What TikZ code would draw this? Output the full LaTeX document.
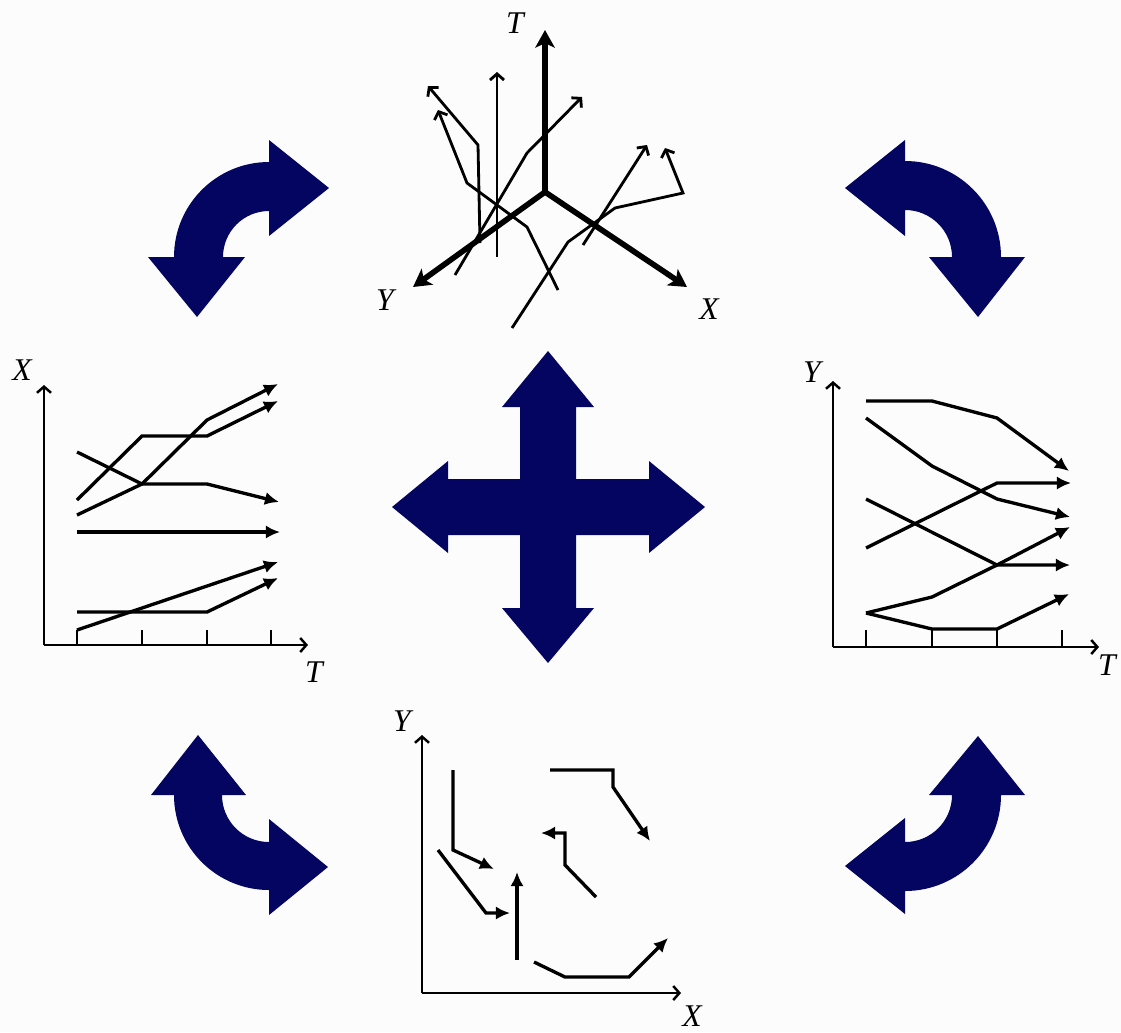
\documentclass[tikz,border=0pt]{standalone}
\usepackage{fontspec}
\setmainfont{Liberation Serif}
\usetikzlibrary{arrows.meta}
\definecolor{navy}{RGB}{3,5,96}
\definecolor{bg}{RGB}{252,252,252}
\begin{document}
\begin{tikzpicture}[x=0.02cm,y=-0.02cm,
  lbl/.style={font=\fontsize{18}{21}\selectfont\itshape, inner sep=0pt},
  traj/.style={line width=1.9pt, line join=miter, -{Latex[length=8pt,width=7.5pt]}},
  thinthree/.style={line width=1.6pt, line join=miter, -{Straight Barb[length=3.5pt,width=8pt]}},
  axthree/.style={line width=3.2pt, -{Stealth[length=10pt,width=11pt,inset=2.5pt]}},
  axplot/.style={line width=1.4pt, -{Straight Barb[length=3.5pt,width=8pt]}},
  tickmark/.style={line width=1.4pt},
  bigarrow/.style={fill=navy, draw=none}
]
\fill[bg] (0,0) rectangle (1121,1032);
\useasboundingbox (0,0) rectangle (1121,1032);

% ---------- top 3D diagram ----------
\coordinate (O3) at (545,192);
\coordinate (T3) at (545,30);
\coordinate (Y3) at (413,287);
\coordinate (X3) at (687,287);
\draw[thinthree] (497,257) -- (497,72);
\draw[thinthree] (480,243) -- (478,145) -- (428,86);
\draw[thinthree] (558,290) -- (527,227) -- (467,183) -- (438,110);
\draw[thinthree] (455,275) -- (527,153) -- (582,97);
\draw[thinthree] (512,328) -- (568,242) -- (615,208) -- (683,193) -- (665,148);
\draw[thinthree] (583,245) -- (647,145);
\draw[axthree] (O3) -- (T3);
\draw[axthree] (O3) -- (Y3);
\draw[axthree] (O3) -- (X3);
\node[lbl] (lT3) at (515,23) {T};
\node[lbl] (lY3) at (385,300) {Y};
\node[lbl] (lX3) at (709,309) {X};

% ---------- left plot X-T ----------
\coordinate (LO) at (44,645);
\coordinate (LY) at (44,385);
\coordinate (LX) at (308,645);
\draw[axplot] (LO) -- (LY);
\draw[axplot] (LO) -- (LX);
\foreach \x in {77,142,207,271} \draw[tickmark] (\x,645) -- (\x,630);
\draw[traj] (77,500) -- (142,436) -- (207,436) -- (278,401);
\draw[traj] (77,515) -- (142,484) -- (207,420) -- (278,384);
\draw[traj] (77,452) -- (142,484) -- (207,484) -- (279,502);
\draw[traj] (77,532) -- (280,532);
\draw[traj] (77,630) -- (278,562);
\draw[traj] (77,612) -- (207,612) -- (278,578);
\node[lbl] (lXL) at (22,370) {X};
\node[lbl] (lTL) at (314,672) {T};

% ---------- right plot Y-T ----------
\coordinate (RO) at (833,647);
\coordinate (RY) at (833,381);
\coordinate (RX) at (1099,647);
\draw[axplot] (RO) -- (RY);
\draw[axplot] (RO) -- (RX);
\foreach \x in {866,932,997,1062} \draw[tickmark] (\x,647) -- (\x,630);
\draw[traj] (866,401) -- (932,401) -- (997,418) -- (1069,471);
\draw[traj] (866,418) -- (932,466) -- (997,499) -- (1070,517);
\draw[traj] (866,499) -- (997,565) -- (1070,565);
\draw[traj] (866,548) -- (997,483) -- (1071,483);
\draw[traj] (866,613) -- (932,597) -- (997,565) -- (1070,527);
\draw[traj] (866,613) -- (932,629) -- (997,629) -- (1069,594);
\node[lbl] (lYR) at (812,372) {Y};
\node[lbl] (lTR) at (1107,665) {T};

% ---------- bottom plot Y-X ----------
\coordinate (BO) at (422,993);
\coordinate (BY) at (422,735);
\coordinate (BX) at (681,993);
\draw[axplot] (BO) -- (BY);
\draw[axplot] (BO) -- (BX);
\draw[traj] (453,770) -- (453,850) -- (494,869);
\draw[traj] (438,850) -- (486,913) -- (510,913);
\draw[traj] (517,960) -- (517,872);
\draw[traj] (534,962) -- (565,977) -- (629,977) -- (668,938);
\draw[traj] (596,897) -- (565,865) -- (565,833) -- (541,833);
\draw[traj] (550,770) -- (613,770) -- (613,787) -- (650,841);
\node[lbl] (lYB) at (402,721) {Y};
\node[lbl] (lXB) at (692,1016) {X};

% ---------- centre four-way arrow ----------
\fill[bigarrow] (548,351) -- (594,407) -- (576,407) -- (576,479) -- (649,479) -- (649,461)
  -- (705,507) -- (649,553) -- (649,535) -- (576,535) -- (576,608) -- (594,608)
  -- (548,663) -- (502,608) -- (520,608) -- (520,535) -- (448,535) -- (448,553)
  -- (392,507) -- (448,461) -- (448,479) -- (520,479) -- (520,407) -- (502,407) -- cycle;

% ---------- curved arrows ----------
\fill[bigarrow] (269,162) -- (269,140) -- (329,188) -- (269,236) -- (269,211)
  arc[start angle=270,end angle=180,radius=46] -- (245,257) -- (197,317) -- (148,257) -- (174,257)
  arc[start angle=180,end angle=270,radius=95] -- cycle;
\fill[bigarrow] (905,161) -- (905,140) -- (845,188) -- (905,236) -- (905,210)
  arc[start angle=270,end angle=360,radius=47] -- (929,257) -- (978,317) -- (1025,257) -- (1001,257)
  arc[start angle=0,end angle=-90,radius=96] -- cycle;
\fill[bigarrow] (174,795) -- (151,795) -- (198,735) -- (246,795) -- (222,795)
  arc[start angle=180,end angle=90,radius=47] -- (269,819) -- (328,867) -- (269,915) -- (269,890)
  arc[start angle=90,end angle=180,radius=95] -- cycle;
\fill[bigarrow] (1001,795) -- (1025,795) -- (978,736) -- (929,795) -- (952,795)
  arc[start angle=0,end angle=90,radius=47] -- (905,818) -- (845,866) -- (905,914) -- (905,891)
  arc[start angle=90,end angle=0,radius=96] -- cycle;
\end{tikzpicture}
\end{document}
